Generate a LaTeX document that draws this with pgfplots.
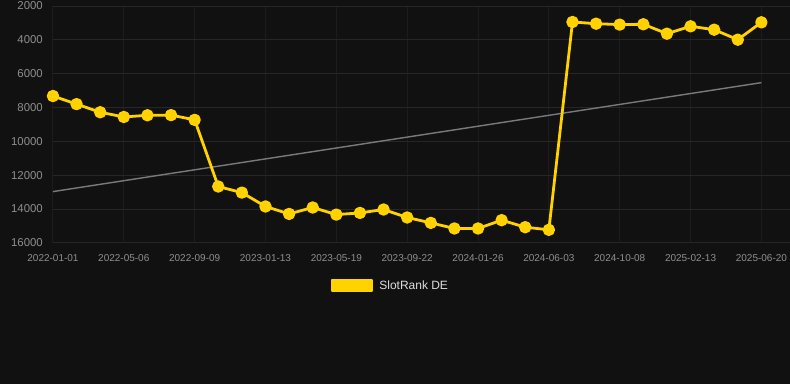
\documentclass[border=0pt]{standalone}
\usepackage{pgfplots}
\pgfplotsset{compat=1.18}
\usepackage{fontspec}
\setmainfont{Liberation Sans}
\definecolor{bg}{HTML}{111111}
\definecolor{gold}{HTML}{FFD200}
\definecolor{gridc}{HTML}{262626}
\definecolor{gridv}{HTML}{1C1C1C}
\definecolor{tickc}{HTML}{8F8F8F}
\definecolor{trend}{HTML}{7A7A7A}
\definecolor{legc}{HTML}{DDDDDD}
\begin{document}
\begin{tikzpicture}[x=1pt,y=1pt]
\fill[bg] (0,0) rectangle (790,384);
\begin{axis}[at={(53pt,141pt)}, anchor=south west, scale only axis,
  width=737pt, height=237pt,
  xmin=0, xmax=31.19, ymin=2000, ymax=16000, y dir=reverse,
  scaled y ticks=false,
  axis line style={draw=none},
  major tick length=0pt,
  grid=major, y grid style={gridc, line width=1pt}, x grid style={gridv, line width=1pt},
  ytick={2000,4000,...,16000},
  xtick={0,3,...,30},
  xticklabels={2022-01-01,2022-05-06,2022-09-09,2023-01-13,2023-05-19,2023-09-22,2024-01-26,2024-06-03,2024-10-08,2025-02-13,2025-06-20},
  /pgf/number format/assume math mode=true,
  /pgf/number format/set thousands separator={},
  yticklabel style={font=\fontsize{11.4}{13}\selectfont, text=tickc, inner sep=0pt, xshift=-10pt},
  xticklabel style={font=\fontsize{10}{12}\selectfont, text=tickc, inner sep=0pt, yshift=-11.5pt},
  legend style={at={(0.458,-0.18)}, anchor=center, draw=none, fill=none, text=legc,
    font=\fontsize{12}{14}\selectfont, inner sep=0pt},
  legend image code/.code={\fill[gold] (0pt,-5.5pt) rectangle (40pt,5.5pt); \path (44pt,0pt);},
  clip=false,
]
\addplot[trend, line width=1.4pt, forget plot] coordinates {(0,12970) (30,6530)};
\addplot[gold, line width=2.8pt, line join=round, mark=*, mark size=4.8pt, mark options={solid, fill=gold, draw=none}] coordinates {
(0,7320) (1,7800) (2,8280) (3,8560) (4,8460) (5,8450) (6,8730)
(7,12670) (8,13030) (9,13850) (10,14290) (11,13910) (12,14330) (13,14230)
(14,14030) (15,14500) (16,14820) (17,15150) (18,15150) (19,14660) (20,15075)
(21,15230) (22,2945) (23,3045) (24,3100) (25,3080) (26,3635) (27,3200)
(28,3400) (29,3990) (30,2965)};
\addlegendentry{SlotRank DE}
\end{axis}
\end{tikzpicture}
\end{document}
